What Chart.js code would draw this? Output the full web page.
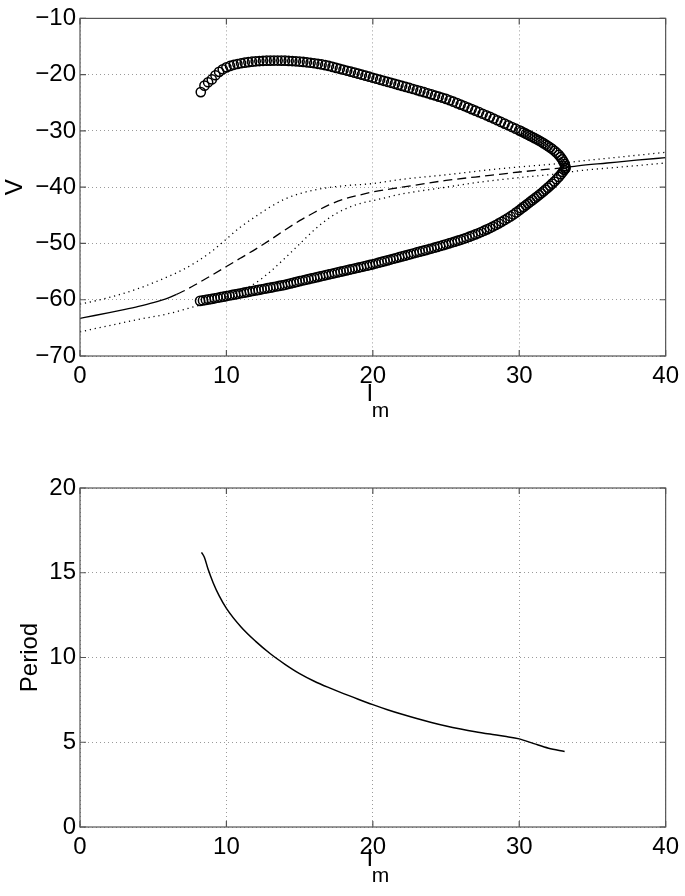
<!DOCTYPE html>
<html>
<head>
<meta charset="utf-8">
<script src="https://cdn.jsdelivr.net/npm/chart.js@4.4.1/dist/chart.umd.min.js"></script>
<style>
  html, body { margin: 0; padding: 0; background: #fff; }
  #wrap { position: relative; width: 685px; height: 896px; }
  canvas { position: absolute; left: 0; }
</style>
</head>
<body>
<div id="wrap">
  <canvas id="top" width="685" height="430" style="top:0;width:685px;height:430px"></canvas>
  <canvas id="bottom" width="685" height="456" style="top:440px;width:685px;height:456px"></canvas>
</div>
<script>
// ---- data ----
// periodic orbit, upper branch (max V)
const upperI = [8.25, 8.5, 8.75, 9.0, 9.25, 9.5, 9.75, 10.0, 10.25, 10.5, 10.75, 11.0, 11.25, 11.5, 11.75, 12.0,
  12.25, 12.5, 12.75, 13.0, 13.25, 13.5, 13.75, 14.0, 14.25, 14.5, 14.75, 15.0, 15.25, 15.5, 15.75, 16.0,
  16.25, 16.5, 16.75, 17.0, 17.25, 17.5, 17.75, 18.0, 18.25, 18.5, 18.75, 19.0, 19.25, 19.5, 19.75, 20.0,
  20.25, 20.5, 20.75, 21.0, 21.25, 21.5, 21.75, 22.0, 22.25, 22.5, 22.75, 23.0, 23.25, 23.5, 23.75, 24.0,
  24.25, 24.5, 24.75, 25.0, 25.25, 25.5, 25.75, 26.0, 26.25, 26.5, 26.75, 27.0, 27.25, 27.5, 27.75, 28.0,
  28.25, 28.5, 28.75, 29.0, 29.25, 29.5, 29.75, 30.0,
  30.15, 30.3, 30.45, 30.6, 30.75, 30.9, 31.05, 31.2, 31.35, 31.5, 31.65, 31.8, 31.95, 32.1, 32.25, 32.4,
  32.55, 32.7, 32.82, 32.93, 33.02, 33.09, 33.14, 33.16];
const upperV = [-23.1, -21.95, -21.35, -20.85, -20.1, -19.5, -19.05, -18.7, -18.45, -18.25, -18.1, -17.97, -17.86, -17.77, -17.69, -17.63,
  -17.58, -17.54, -17.51, -17.5, -17.49, -17.49, -17.5, -17.52, -17.55, -17.58, -17.62, -17.67, -17.73, -17.8, -17.88, -17.97,
  -18.07, -18.18, -18.31, -18.45, -18.62, -18.79, -18.96, -19.13, -19.3, -19.47, -19.64, -19.82, -20.0, -20.18, -20.36, -20.55,
  -20.73, -20.91, -21.09, -21.27, -21.45, -21.63, -21.81, -22.0, -22.18, -22.36, -22.55, -22.73, -22.92, -23.11, -23.3, -23.5,
  -23.7, -23.9, -24.1, -24.3, -24.55, -24.8, -25.06, -25.32, -25.58, -25.85, -26.12, -26.4, -26.67, -26.95, -27.22, -27.5,
  -27.8, -28.1, -28.4, -28.7, -29.0, -29.3, -29.6, -29.9,
  -30.09, -30.29, -30.49, -30.69, -30.89, -31.09, -31.29, -31.49, -31.7, -31.93, -32.17, -32.42, -32.67, -32.93, -33.2, -33.52,
  -33.87, -34.25, -34.65, -35.05, -35.45, -35.85, -36.25, -36.55];

// periodic orbit, lower branch (min V)
const lowerI = [8.2, 8.4, 8.6, 8.8, 9.0, 9.2, 9.4, 9.6, 9.8, 10.0, 10.2, 10.4, 10.6, 10.8, 11.0, 11.2, 11.4, 11.6, 11.8, 12.0,
  12.2, 12.4, 12.6, 12.8, 13.0, 13.2, 13.4, 13.6, 13.8, 14.0, 14.2, 14.4, 14.6, 14.8, 15.0, 15.2, 15.4, 15.6, 15.8, 16.0,
  16.2, 16.4, 16.6, 16.8, 17.0, 17.2, 17.4, 17.6, 17.8, 18.0, 18.2, 18.4, 18.6, 18.8, 19.0, 19.2, 19.4, 19.6, 19.8, 20.0,
  20.2, 20.4, 20.6, 20.8, 21.0, 21.2, 21.4, 21.6, 21.8, 22.0, 22.2, 22.4, 22.6, 22.8, 23.0, 23.2, 23.4, 23.6, 23.8, 24.0,
  24.2, 24.4, 24.6, 24.8, 25.0, 25.2, 25.4, 25.6, 25.8, 26.0, 26.2, 26.4, 26.6, 26.8, 27.0, 27.2, 27.4, 27.6, 27.8, 28.0,
  28.2, 28.4, 28.6, 28.8, 29.0, 29.2, 29.4, 29.6, 29.8, 30.0,
  30.15, 30.3, 30.45, 30.6, 30.75, 30.9, 31.05, 31.2, 31.35, 31.5, 31.65, 31.8, 31.95, 32.1, 32.25, 32.4,
  32.55, 32.7, 32.85, 32.97, 33.07, 33.14];
const lowerV = [-60.2, -60.12, -60.03, -59.94, -59.85, -59.75, -59.65, -59.55, -59.45, -59.35, -59.25, -59.15, -59.05, -58.95, -58.85, -58.75, -58.65, -58.55, -58.45, -58.35,
  -58.25, -58.15, -58.05, -57.95, -57.85, -57.75, -57.65, -57.55, -57.45, -57.35, -57.22, -57.09, -56.96, -56.83, -56.7, -56.58, -56.46, -56.34, -56.22, -56.1,
  -55.98, -55.86, -55.74, -55.62, -55.5, -55.38, -55.26, -55.14, -55.02, -54.9, -54.78, -54.66, -54.54, -54.42, -54.3, -54.18, -54.06, -53.94, -53.82, -53.7,
  -53.56, -53.42, -53.28, -53.14, -53.0, -52.86, -52.72, -52.58, -52.44, -52.3, -52.16, -52.02, -51.88, -51.74, -51.6, -51.46, -51.32, -51.18, -51.04, -50.9,
  -50.75, -50.6, -50.45, -50.3, -50.15, -49.99, -49.83, -49.67, -49.51, -49.35, -49.17, -48.99, -48.8, -48.6, -48.4, -48.18, -47.96, -47.73, -47.49, -47.25,
  -46.99, -46.72, -46.44, -46.14, -45.83, -45.52, -45.2, -44.85, -44.48, -44.1,
  -43.8, -43.5, -43.2, -42.9, -42.6, -42.3, -42.0, -41.7, -41.4, -41.08, -40.75, -40.42, -40.08, -39.73, -39.37, -39.0,
  -38.6, -38.17, -37.7, -37.3, -36.95, -36.7];

// equilibrium: stable left, unstable (dashed), stable right
const stableLeftI = [0, 1, 2, 3, 4, 5, 6, 6.6];
const stableLeftV = [-63.3, -62.8, -62.28, -61.74, -61.16, -60.5, -59.7, -59.05];
const unstableI = [6.6, 7.2, 8, 9, 10, 11, 12, 13, 14, 15, 16, 17, 18, 19, 20, 22, 25, 28, 30, 32, 33.15];
const unstableV = [-59.05, -58.3, -57.15, -55.65, -54.1, -52.55, -51.0, -49.35, -47.6, -45.95, -44.5, -43.15, -42.15, -41.45, -40.85, -40.0, -38.8, -37.9, -37.3, -36.8, -36.5];
const stableRightI = [33.15, 34, 36, 38, 40];
const stableRightV = [-36.5, -36.2, -35.7, -35.2, -34.75];

// dotted envelopes
const dotHiI = [0, 2, 4, 6, 7, 8, 9, 10, 11, 12, 13, 14, 15, 16, 17, 18, 20, 22, 25, 28, 30, 32.7, 34, 37, 40];
const dotHiV = [-60.8, -59.6, -58.0, -55.9, -54.7, -53.2, -51.4, -49.2, -47.0, -45.2, -43.5, -42.1, -41.15, -40.5, -40.05, -39.75, -39.35, -38.6, -37.8, -36.9, -36.4, -35.8, -35.4, -34.6, -33.8];
const dotLoI = [0, 2, 4, 6, 8, 9, 10, 11, 12, 13, 14, 15, 16, 17, 18, 19, 20, 22, 25, 27.3, 30, 32.7, 34, 37, 40];
const dotLoV = [-65.7, -64.6, -63.5, -62.5, -61.1, -60.4, -59.5, -58.4, -57.0, -55.0, -52.6, -50.1, -47.6, -45.5, -44.0, -43.0, -42.4, -41.2, -40.0, -39.1, -38.3, -37.6, -37.1, -36.4, -35.7];

// period of the orbit
const periodI = [8.3, 8.5, 8.75, 9.1, 9.5, 10, 11, 12, 13, 14, 15, 16, 17, 18, 19, 20, 21, 22, 23, 24, 25, 26, 27, 28, 29, 30, 31, 32, 33.1];
const periodT = [16.2, 15.9, 15.2, 14.4, 13.65, 12.9, 11.8, 10.95, 10.22, 9.6, 9.05, 8.6, 8.22, 7.87, 7.54, 7.22, 6.92, 6.65, 6.4, 6.17, 5.96, 5.78, 5.62, 5.48, 5.35, 5.2, 4.92, 4.65, 4.46];

const FONT = '"Liberation Sans", Arial, Helvetica, sans-serif';

function pts(xs, ys) {
    return xs.map((x, i) => ({ x: x, y: ys[i] }));
}

function minus(v) {
    return String(v).replace('-', '\u2212');
}

// box, inward ticks and axis titles (matlab look)
const frame = {
    id: 'frame',
    afterDraw(chart, args, opts) {
        const ctx = chart.ctx;
        const a = chart.chartArea;
        const x = chart.scales.x, y = chart.scales.y;
        ctx.save();
        ctx.strokeStyle = '#555';
        ctx.lineWidth = 1.2;
        ctx.strokeRect(a.left, a.top, a.right - a.left, a.bottom - a.top);
        ctx.beginPath();
        x.ticks.forEach(t => {
            const px = x.getPixelForValue(t.value);
            ctx.moveTo(px, a.bottom); ctx.lineTo(px, a.bottom - 6);
            ctx.moveTo(px, a.top); ctx.lineTo(px, a.top + 6);
        });
        y.ticks.forEach(t => {
            const py = y.getPixelForValue(t.value);
            ctx.moveTo(a.left, py); ctx.lineTo(a.left + 6, py);
            ctx.moveTo(a.right, py); ctx.lineTo(a.right - 6, py);
        });
        ctx.stroke();

        ctx.fillStyle = '#000';
        // x title: I with subscript m
        ctx.font = '24px ' + FONT;
        ctx.textAlign = 'center';
        ctx.textBaseline = 'alphabetic';
        const cx = (a.left + a.right) / 2 - 3;
        ctx.fillText('I', cx, a.bottom + opts.xTitleDy);
        ctx.font = '21px ' + FONT;
        ctx.textAlign = 'left';
        ctx.fillText('m', cx + 2, a.bottom + opts.xTitleDy + 16);
        // y title
        ctx.font = '24px ' + FONT;
        ctx.textAlign = 'center';
        ctx.textBaseline = 'middle';
        ctx.translate(opts.yTitleX, (a.top + a.bottom) / 2);
        ctx.rotate(-Math.PI / 2);
        ctx.fillText(opts.yTitle, 0, 0);
        ctx.restore();
    }
};

function axes(ymin, ymax, ystep, xHeight) {
    const grid = { color: '#9a9a9a', lineWidth: 1, drawTicks: false };
    const border = { display: false, dash: [1, 3] };
    const font = { family: FONT, size: 24 };
    return {
        x: {
            type: 'linear', min: 0, max: 40,
            ticks: { stepSize: 10, maxRotation: 0, color: '#000', font: font, padding: 6, callback: v => minus(v) },
            grid: grid, border: border,
            afterFit: s => { s.height = xHeight; }
        },
        y: {
            type: 'linear', min: ymin, max: ymax,
            ticks: { stepSize: ystep, color: '#000', font: font, padding: 4, callback: v => minus(v) },
            grid: grid, border: border,
            afterFit: s => { s.width = 80; }
        }
    };
}

function lineSet(xs, ys, dash) {
    return {
        data: pts(xs, ys), showLine: true, pointRadius: 0,
        borderColor: '#000', borderWidth: 1.3, borderDash: dash,
        cubicInterpolationMode: 'monotone'
    };
}

function circleSet(xs, ys) {
    return {
        data: pts(xs, ys), showLine: false, pointRadius: 4.6,
        pointBorderWidth: 1.5, pointBorderColor: '#000',
        pointBackgroundColor: 'rgba(0,0,0,0)', borderColor: '#000'
    };
}

new Chart(document.getElementById('top'), {
    type: 'scatter',
    data: {
        datasets: [
            lineSet(dotHiI, dotHiV, [1.2, 3.8]),
            lineSet(dotLoI, dotLoV, [1.2, 3.8]),
            lineSet(stableLeftI, stableLeftV, []),
            lineSet(unstableI, unstableV, [9, 5]),
            lineSet(stableRightI, stableRightV, []),
            circleSet(upperI, upperV),
            circleSet(lowerI, lowerV)
        ]
    },
    options: {
        responsive: false,
        animation: false,
        layout: { padding: { left: 0, top: 18, right: 18, bottom: 0 } },
        scales: axes(-70, -10, 10, 74),
        plugins: {
            legend: { display: false },
            tooltip: { enabled: false },
            frame: { yTitle: 'V', yTitleX: 15, xTitleDy: 45 }
        }
    },
    plugins: [frame]
});

new Chart(document.getElementById('bottom'), {
    type: 'scatter',
    data: {
        datasets: [
            Object.assign(lineSet(periodI, periodT, []), { borderWidth: 1.5 })
        ]
    },
    options: {
        responsive: false,
        animation: false,
        layout: { padding: { left: 0, top: 48, right: 18, bottom: 0 } },
        scales: axes(0, 20, 5, 69),
        plugins: {
            legend: { display: false },
            tooltip: { enabled: false },
            frame: { yTitle: 'Period', yTitleX: 30, xTitleDy: 39 }
        }
    },
    plugins: [frame]
});
</script>
</body>
</html>
